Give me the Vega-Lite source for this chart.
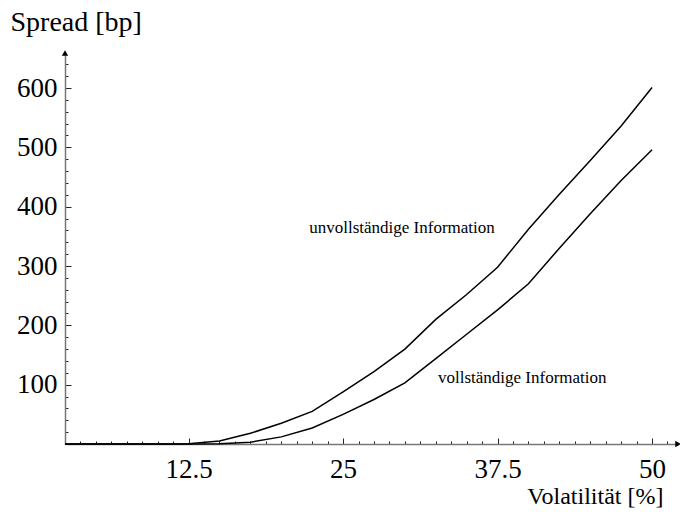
{
  "$schema": "https://vega.github.io/schema/vega-lite/v6.json",
  "width": 613,
  "height": 391,
  "autosize": {"type": "none"},
  "padding": {"left": 65, "top": 53, "right": 2, "bottom": 71},
  "background": "white",
  "config": {
    "view": {"stroke": null},
    "font": "Liberation Serif",
    "axis": {"grid": false, "labelOverlap": false, "labelBound": false, "labelFont": "Liberation Serif", "titleFont": "Liberation Serif", "labelColor": "black", "titleColor": "black", "titleFontWeight": "normal"}
  },
  "datasets": {
    "curves": [
      {"vol": 2.5, "spread": 0, "info": "unvollständige Information"},
      {"vol": 5, "spread": 0, "info": "unvollständige Information"},
      {"vol": 7.5, "spread": 0, "info": "unvollständige Information"},
      {"vol": 10, "spread": 0, "info": "unvollständige Information"},
      {"vol": 12.5, "spread": 0.5, "info": "unvollständige Information"},
      {"vol": 15, "spread": 5, "info": "unvollständige Information"},
      {"vol": 17.5, "spread": 18, "info": "unvollständige Information"},
      {"vol": 20, "spread": 35, "info": "unvollständige Information"},
      {"vol": 22.5, "spread": 55, "info": "unvollständige Information"},
      {"vol": 25, "spread": 88, "info": "unvollständige Information"},
      {"vol": 27.5, "spread": 122, "info": "unvollständige Information"},
      {"vol": 30, "spread": 160, "info": "unvollständige Information"},
      {"vol": 32.5, "spread": 210, "info": "unvollständige Information"},
      {"vol": 35, "spread": 252, "info": "unvollständige Information"},
      {"vol": 37.5, "spread": 298, "info": "unvollständige Information"},
      {"vol": 40, "spread": 362, "info": "unvollständige Information"},
      {"vol": 42.5, "spread": 421, "info": "unvollständige Information"},
      {"vol": 45, "spread": 478, "info": "unvollständige Information"},
      {"vol": 47.5, "spread": 536, "info": "unvollständige Information"},
      {"vol": 50, "spread": 601, "info": "unvollständige Information"},
      {"vol": 2.5, "spread": 0, "info": "vollständige Information"},
      {"vol": 5, "spread": 0, "info": "vollständige Information"},
      {"vol": 7.5, "spread": 0, "info": "vollständige Information"},
      {"vol": 10, "spread": 0, "info": "vollständige Information"},
      {"vol": 12.5, "spread": 0, "info": "vollständige Information"},
      {"vol": 15, "spread": 0.5, "info": "vollständige Information"},
      {"vol": 17.5, "spread": 3, "info": "vollständige Information"},
      {"vol": 20, "spread": 12, "info": "vollständige Information"},
      {"vol": 22.5, "spread": 27, "info": "vollständige Information"},
      {"vol": 25, "spread": 50, "info": "vollständige Information"},
      {"vol": 27.5, "spread": 75, "info": "vollständige Information"},
      {"vol": 30, "spread": 103, "info": "vollständige Information"},
      {"vol": 32.5, "spread": 144, "info": "vollständige Information"},
      {"vol": 35, "spread": 185, "info": "vollständige Information"},
      {"vol": 37.5, "spread": 226, "info": "vollständige Information"},
      {"vol": 40, "spread": 270, "info": "vollständige Information"},
      {"vol": 42.5, "spread": 330, "info": "vollständige Information"},
      {"vol": 45, "spread": 388, "info": "vollständige Information"},
      {"vol": 47.5, "spread": 444, "info": "vollständige Information"},
      {"vol": 50, "spread": 496, "info": "vollständige Information"}
    ],
    "one": [{"n": 1}]
  },
  "layer": [
    {
      "data": {"name": "curves"},
      "mark": {"type": "line", "color": "black", "strokeWidth": 1.5, "clip": false},
      "encoding": {
        "x": {
          "field": "vol", "type": "quantitative",
          "scale": {"domain": [2.5, 52.1], "nice": false, "zero": false},
          "axis": {
            "title": "Volatilität [%]",
            "titleFontSize": 24,
            "titleAlign": "right",
            "titleAnchor": null,
            "titleX": 598,
            "titleY": 59,
            "titleBaseline": "alphabetic",
            "values": [3.75, 5, 6.25, 7.5, 8.75, 10, 11.25, 12.5, 13.75, 15, 16.25, 17.5, 18.75, 20, 21.25, 22.5, 23.75, 25, 26.25, 27.5, 28.75, 30, 31.25, 32.5, 33.75, 35, 36.25, 37.5, 38.75, 40, 41.25, 42.5, 43.75, 45, 46.25, 47.5, 48.75, 50, 51.25],
            "tickCount": 500,
            "labelExpr": "datum.value % 12.5 === 0 ? format(datum.value, '') : ''",
            "labelFontSize": 27,
            "labelPadding": 18,
            "labelFlush": false,
            "labelOverlap": false,
            "tickSize": {"condition": {"test": "datum.value % 12.5 === 0", "value": -6}, "value": -3},
            "tickColor": "#222",
            "tickWidth": 1,
            "domainColor": "#777",
            "domainWidth": 1.5
          }
        },
        "y": {
          "field": "spread", "type": "quantitative",
          "scale": {"domain": [0, 659], "nice": false},
          "axis": {
            "title": "Spread [bp]",
            "titleFontSize": 28,
            "titleAngle": 0,
            "titleAlign": "left",
            "titleAnchor": null,
            "titleX": -55,
            "titleY": -23,
            "titleBaseline": "alphabetic",
            "values": [20, 40, 60, 80, 100, 120, 140, 160, 180, 200, 220, 240, 260, 280, 300, 320, 340, 360, 380, 400, 420, 440, 460, 480, 500, 520, 540, 560, 580, 600, 620, 640],
            "tickCount": 500,
            "labelExpr": "datum.value % 100 === 0 ? format(datum.value, '') : ''",
            "labelFontSize": 27,
            "labelPadding": 14,
            "labelOverlap": false,
            "labelFlush": false,
            "tickSize": {"condition": {"test": "datum.value % 100 === 0", "value": -6}, "value": -3},
            "tickColor": "#222",
            "tickWidth": 1,
            "domainColor": "#777",
            "domainWidth": 1.5
          }
        },
        "detail": {"field": "info", "type": "nominal"}
      }
    },
    {
      "data": {"name": "one"},
      "mark": {"type": "point", "shape": "triangle-up", "filled": true, "color": "black", "size": 40, "opacity": 1},
      "encoding": {"x": {"datum": 2.5, "type": "quantitative"}, "y": {"datum": 659, "type": "quantitative"}}
    },
    {
      "data": {"name": "one"},
      "mark": {"type": "point", "shape": "triangle-right", "filled": true, "color": "black", "size": 40, "opacity": 1},
      "encoding": {"x": {"datum": 52.1, "type": "quantitative"}, "y": {"datum": 0, "type": "quantitative"}}
    },
    {
      "data": {"name": "one"},
      "mark": {"type": "text", "font": "Liberation Serif", "fontSize": 17, "color": "black", "align": "center", "baseline": "middle"},
      "encoding": {"x": {"datum": 29.77, "type": "quantitative"}, "y": {"datum": 364, "type": "quantitative"}, "text": {"value": "unvollständige Information"}}
    },
    {
      "data": {"name": "one"},
      "mark": {"type": "text", "font": "Liberation Serif", "fontSize": 17, "color": "black", "align": "center", "baseline": "middle"},
      "encoding": {"x": {"datum": 39.5, "type": "quantitative"}, "y": {"datum": 111, "type": "quantitative"}, "text": {"value": "vollständige Information"}}
    }
  ]
}
